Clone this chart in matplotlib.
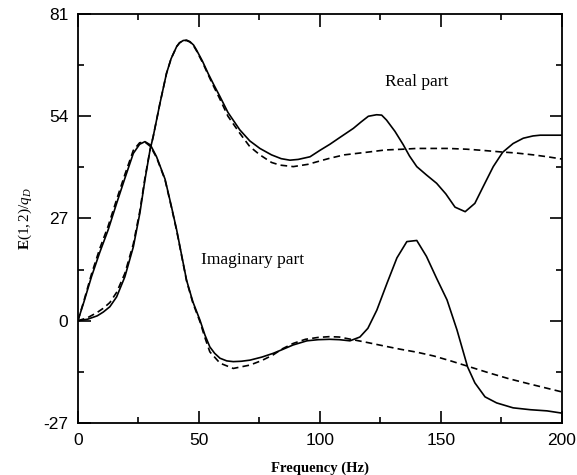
import matplotlib.pyplot as plt
from matplotlib.ticker import MultipleLocator

plt.rcParams['axes.unicode_minus'] = False
plt.rcParams['mathtext.fontset'] = 'custom'
plt.rcParams['mathtext.rm'] = 'Liberation Serif'
plt.rcParams['mathtext.it'] = 'Liberation Serif:italic'
plt.rcParams['mathtext.bf'] = 'Liberation Serif:bold'

# real part, measured (solid) and model (dashed)
real_f = [0, 4, 8, 10.5, 13.2, 16, 19.4, 22.9, 25.6, 27.7, 29.8, 31.1, 33.9, 36.6, 38.5,
          40.8, 42, 43.5, 44.9, 46.3, 47.8, 49, 51.5, 53.8, 56, 58.7, 62, 66.9, 71, 75.2, 80, 84,
          87.6, 91, 95.9, 100, 104.1, 108, 113.8, 117, 120, 123.4, 125.5, 127.5, 131,
          134.4, 137, 140, 144, 148.2, 152, 155.8, 160, 164, 167.5, 171.6, 175.5, 179.8,
          184, 188, 191, 195, 200]
real_meas = [0, 0.4, 1.3, 2.3, 3.7, 6.3, 11.6, 19.5, 28.4, 37.2, 45.1, 48.6, 57.4, 65.3, 69.2,
             72.4, 73.4, 74, 74.1, 73.7, 72.8, 71.5, 68.5, 65.3, 62.5, 59.2, 55, 50.4, 47.5, 45.5, 43.8, 42.8,
             42.4, 42.6, 43.3, 45, 46.6, 48.3, 50.8, 52.5, 54, 54.4, 54.3, 53, 50,
             46.5, 43.5, 40.7, 38.5, 36.3, 33.5, 30, 28.8, 31, 35.5, 40.7, 44.5, 46.8,
             48.2, 48.8, 49, 49, 49]

real_model_f = [0, 4, 8, 10.5, 13.2, 16, 19.4, 22.9, 25.6, 27.7, 29.8, 31.1, 33.9, 36.6, 38.5,
                40.8, 42, 43.5, 44.9, 46.3, 47.8, 49, 51.5, 53.8, 56, 58.7, 62, 66.9, 71, 75.2, 80, 83.5,
                89, 95, 100, 104, 110, 120.7, 127, 134.4, 140, 146.8, 153, 160.6, 167, 174.4,
                181, 188.2, 194, 200]
real_model = [0, 0.8, 2.2, 3.3, 4.8, 7.5, 12.5, 20.3, 29, 37.7, 45.1, 48.6, 57.4, 65.3, 69.2,
              72.4, 73.4, 73.9, 74, 73.6, 72.6, 71.3, 68.2, 65, 62, 58.5, 54, 49.5, 46, 43.8, 41.8, 41.1,
              40.7, 41.3, 42.2, 42.9, 43.8, 44.6, 45.1, 45.3, 45.5, 45.5, 45.5, 45.3, 45, 44.6,
              44.3, 43.8, 43.3, 42.7]

# imaginary part
imag_f = [0, 2.5, 5.6, 9, 12.5, 16, 19.4, 22.9, 25.5, 27.7, 30, 32.5, 36, 38.7, 40.8, 42.8,
          44.9, 47.5, 50.4, 52.5, 54.5, 56.5, 58.7, 61.5, 64.2, 67.5, 71.1, 76, 80.7, 84.5,
          88.9, 94.6, 99.3, 104, 108, 112.4, 116.5, 119.8, 123.5, 127.7, 131.8, 135.9, 140,
          144, 148.2, 152.5, 156.6, 161, 164, 168.2, 173, 179.8, 187, 193.8, 200]
imag_meas = [0, 5, 11.6, 18, 24, 31, 37.6, 44.2, 46.6, 47.3, 46.4, 43.3, 37.4, 30, 24, 17.5,
             10.7, 5, 0.2, -3.8, -6.9, -8.6, -9.9, -10.6, -10.8, -10.7, -10.4, -9.6, -8.6, -7.6,
             -6.4, -5.3, -5.0, -4.9, -5.0, -5.3, -4.3, -2, 2.8, 9.9, 16.6, 20.9, 21.2,
             17, 11.2, 5.5, -2.4, -12.2, -16.4, -20.1, -21.7, -23, -23.5, -23.8, -24.4]

imag_model_f = [0, 2.5, 5.6, 9, 12.5, 16, 19.4, 22.9, 25.5, 27.7, 30, 32.5, 36, 38.7, 40.8,
                42.8, 44.9, 47.5, 50.4, 52.5, 54.5, 58.7, 64.2, 71.1, 76, 80.7, 84.5, 88.9,
                94, 99.3, 104, 108, 112, 116, 120, 126, 133, 140, 147, 154, 162, 170, 178,
                186, 193, 200]
imag_model = [0, 5.3, 12.3, 19, 25, 32, 38.6, 45, 47, 47.2, 46, 43.1, 37.2, 29.8, 23.8,
              17.3, 10.5, 4.7, -0.2, -4.5, -8.2, -11.2, -12.6, -11.7, -10.5, -9, -7.4, -6,
              -4.9, -4.4, -4.2, -4.3, -4.8, -5.3, -5.8, -6.6, -7.5, -8.3, -9.3, -10.6, -12.2,
              -13.8, -15.3, -16.6, -17.7, -18.8]

fig = plt.figure(figsize=(5.77, 4.75), dpi=100)
ax = fig.add_axes([0.135, 0.1095, 0.839, 0.861])

ax.plot(real_f, real_meas, color='black', lw=1.2)
ax.plot(real_model_f, real_model, color='black', lw=1.2, ls=(0, (4, 2.5)))
ax.plot(imag_f, imag_meas, color='black', lw=1.2)
ax.plot(imag_model_f, imag_model, color='black', lw=1.2, ls=(0, (4, 2.5)))

ax.text(127, 63, 'Real part', family='Liberation Serif', fontsize=12.5, va='center')
ax.text(51, 16, 'Imaginary part', family='Liberation Serif', fontsize=12.5, va='center')

ax.set_xlim(0, 200)
ax.set_ylim(-27, 81)
ax.xaxis.set_major_locator(MultipleLocator(50))
ax.xaxis.set_minor_locator(MultipleLocator(25))
ax.yaxis.set_major_locator(MultipleLocator(27))
ax.yaxis.set_minor_locator(MultipleLocator(13.5))
ax.tick_params(which='both', direction='in', top=True, right=True, width=1.2)
ax.tick_params(which='major', length=9, labelsize=12.5, pad=7)
ax.tick_params(which='minor', length=4.5)
for lab in ax.get_xticklabels() + ax.get_yticklabels():
    lab.set_family('Liberation Sans')
for sp in ax.spines.values():
    sp.set_linewidth(1.3)

ax.set_xlabel('Frequency (Hz)', family='Liberation Serif', fontweight='bold', fontsize=10.5)
ax.set_ylabel(r'$\mathbf{E}\mathit{(1,2)/q_D}$', fontsize=11)
ax.xaxis.set_label_coords(0.5, -0.093)
ax.yaxis.set_label_coords(-0.09, 0.5)

fig.savefig('out.png', dpi=100)
